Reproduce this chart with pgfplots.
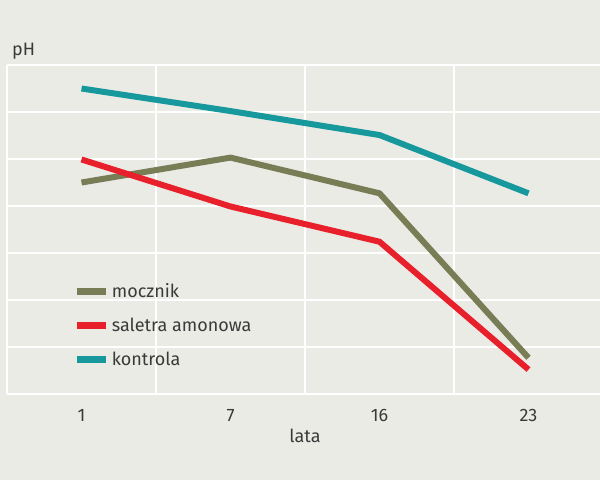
\documentclass[border=0pt]{standalone}
\usepackage{pgfplots}
\pgfplotsset{compat=1.18}
\usepackage{fontspec}
\setmainfont{Fira Sans}
\definecolor{bg}{HTML}{EBEBE6}
\definecolor{txt}{HTML}{3A3A3A}
\definecolor{olive}{HTML}{787D55}
\definecolor{redl}{HTML}{E8202B}
\definecolor{teal}{HTML}{17989D}
\begin{document}
\begin{tikzpicture}
\fill[bg] (0pt,0pt) rectangle (600pt,480pt);
\useasboundingbox (0pt,0pt) rectangle (600pt,480pt);
\node[anchor=base west, font=\fontsize{18}{21}\selectfont, text=txt, inner sep=0pt] at (12pt,424pt) {pH};
\begin{axis}[
  at={(7pt,86pt)}, anchor=south west,
  scale only axis, width=596pt, height=329pt,
  xmin=-0.5, xmax=3.5, ymin=0, ymax=7,
  axis line style={draw=none},
  xtick={0,1,2,3}, xticklabels={1,7,16,23},
  minor xtick={-0.5,0.5,1.5,2.5},
  ytick={0,1,...,7}, yticklabels={},
  ymajorgrids, xminorgrids,
  major tick length=0pt, minor tick length=0pt,
  grid style={white, line width=2pt},
  minor grid style={white, line width=2pt},
  /pgf/number format/assume math mode=true,
  xticklabel style={font=\fontsize{18}{21}\selectfont, text=txt, yshift=-12pt},
  xlabel={lata},
  xlabel style={font=\fontsize{18}{21}\selectfont, text=txt, yshift=0pt},
  clip=false,
  legend cell align=left,
  legend style={at={(0.111,0.345)}, anchor=north west, draw=none, fill=none,
    inner sep=0pt, row sep=13pt,
    font=\fontsize{18}{21}\selectfont, text=txt,
    nodes={inner sep=3pt}},
  legend image code/.code={\draw[line width=6.5pt] (0pt,0pt) -- (29pt,0pt);},
  every axis plot/.append style={line width=6pt, line join=miter},
]
\addplot[olive] coordinates {(0,4.50) (1,5.03) (2,4.27) (3,0.77)};
\addlegendentry{mocznik}
\addplot[redl] coordinates {(0,4.99) (1,3.99) (2,3.24) (3,0.52)};
\addlegendentry{saletra amonowa}
\addplot[teal] coordinates {(0,6.50) (1,6.02) (2,5.51) (3,4.27)};
\addlegendentry{kontrola}
\end{axis}
\end{tikzpicture}
\end{document}
